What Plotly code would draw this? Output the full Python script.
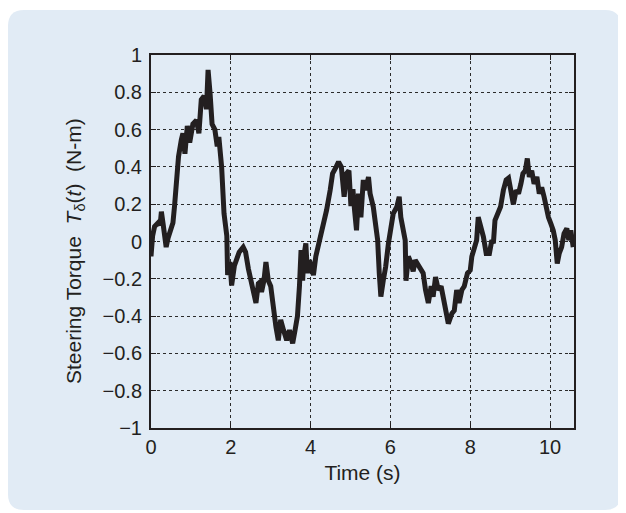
import plotly.graph_objects as go

# Time (s)
time_s = [0.00, 0.04, 0.09, 0.18, 0.23, 0.26, 0.30, 0.34, 0.38, 0.43, 0.47, 0.55, 0.59, 0.64, 0.69,
          0.76, 0.80, 0.85, 0.91, 0.97, 1.05, 1.14, 1.20, 1.26, 1.33, 1.39, 1.43, 1.48, 1.53, 1.60,
          1.66, 1.70, 1.77, 1.83, 1.87, 1.90, 1.92, 1.98, 2.02, 2.09, 2.15, 2.21, 2.31, 2.37, 2.44,
          2.52, 2.56, 2.63, 2.69, 2.73, 2.77, 2.83, 2.88, 2.94, 3.00, 3.07, 3.13, 3.19, 3.25, 3.32,
          3.40, 3.47, 3.55, 3.61, 3.67, 3.72, 3.76, 3.80, 3.83, 3.88, 3.92, 3.97, 4.03, 4.07, 4.13,
          4.19, 4.25, 4.32, 4.40, 4.49, 4.55, 4.64, 4.70, 4.77, 4.84, 4.90, 4.96, 5.01, 5.06, 5.10,
          5.15, 5.20, 5.26, 5.32, 5.38, 5.45, 5.49, 5.57, 5.63, 5.68, 5.72, 5.76, 5.82, 5.88, 5.95,
          6.01, 6.07, 6.16, 6.22, 6.26, 6.32, 6.37, 6.39, 6.45, 6.52, 6.57, 6.62, 6.68, 6.74, 6.82,
          6.88, 6.95, 7.02, 7.07, 7.13, 7.20, 7.27, 7.33, 7.39, 7.45, 7.54, 7.60, 7.66, 7.72, 7.79,
          7.85, 7.93, 8.00, 8.04, 8.09, 8.16, 8.20, 8.26, 8.33, 8.40, 8.48, 8.54, 8.58, 8.62, 8.70,
          8.76, 8.83, 8.90, 8.96, 9.02, 9.08, 9.15, 9.21, 9.27, 9.32, 9.38, 9.43, 9.48, 9.54, 9.60,
          9.67, 9.73, 9.79, 9.85, 9.90, 9.96, 10.02, 10.08, 10.13, 10.18, 10.23, 10.29, 10.35, 10.42,
          10.47, 10.52, 10.58]

# Steering torque (N-m)
torque = [-0.08, 0.03, 0.08, 0.10, 0.09, 0.16, 0.10, 0.02, -0.03, 0.02, 0.045, 0.10, 0.19, 0.35, 0.455,
          0.545, 0.58, 0.47, 0.62, 0.53, 0.63, 0.65, 0.58, 0.76, 0.78, 0.71, 0.92, 0.795, 0.63, 0.60,
          0.51, 0.56, 0.40, 0.15, 0.045, 0.03, -0.18, -0.11, -0.236, -0.13, -0.093, -0.057, -0.03, -0.057, -0.146,
          -0.218, -0.24, -0.33, -0.225, -0.218, -0.27, -0.21, -0.11, -0.21, -0.24, -0.386, -0.457, -0.53, -0.42, -0.475,
          -0.53, -0.475, -0.546, -0.475, -0.40, -0.24, -0.046, -0.21, -0.08, -0.01, -0.17, -0.10, -0.16, -0.18, -0.08,
          -0.03, 0.043, 0.096, 0.168, 0.275, 0.364, 0.40, 0.427, 0.40, 0.24, 0.364, 0.38, 0.19, 0.28, 0.17,
          0.06, 0.257, 0.13, 0.33, 0.275, 0.346, 0.257, 0.186, 0.06, 0.007, -0.17, -0.296, -0.21, -0.136, -0.01,
          0.08, 0.15, 0.186, 0.24, 0.13, 0.06, 0.007, -0.21, -0.08, -0.118, -0.16, -0.10, -0.118, -0.136, -0.17,
          -0.26, -0.33, -0.24, -0.296, -0.19, -0.26, -0.24, -0.31, -0.37, -0.44, -0.386, -0.37, -0.26, -0.33, -0.26,
          -0.24, -0.17, -0.154, -0.08, -0.046, 0.007, 0.13, 0.08, 0.025, -0.064, -0.064, 0.007, -0.01, 0.114, 0.15,
          0.186, 0.275, 0.33, 0.34, 0.275, 0.20, 0.275, 0.257, 0.31, 0.364, 0.38, 0.445, 0.346, 0.38, 0.31,
          0.346, 0.257, 0.29, 0.24, 0.186, 0.13, 0.096, 0.06, 0.007, -0.118, -0.064, -0.03, 0.043, 0.07,
          0.007, 0.06, -0.03]

x_ticks = [0, 2, 4, 6, 8, 10]
x_tick_labels = ["0", "2", "4", "6", "8", "10"]
y_ticks = [-1, -0.8, -0.6, -0.4, -0.2, 0, 0.2, 0.4, 0.6, 0.8, 1]
y_tick_labels = ["\u22121", "\u22120.8", "\u22120.6", "\u22120.4", "\u22120.2", "0",
                 "0.2", "0.4", "0.6", "0.8", "1"]

# The page body has an 8px margin, so the figure is drawn offset by (8, 8) on screen.
OFF = 8
W, H = 626 - OFF, 513 - OFF
PLOT_L, PLOT_R, PLOT_T, PLOT_B = 151, 574, 55, 428  # plot area in screen pixels
ML, MT = PLOT_L - OFF, PLOT_T - OFF
MR, MB = W - (PLOT_R - OFF), H - (PLOT_B - OFF)
PW, PH = PLOT_R - PLOT_L, PLOT_B - PLOT_T


def scr2paper(sx, sy):
    return (sx - PLOT_L) / PW, (PLOT_B - sy) / PH


def rounded_rect(x0, y0, x1, y1, r):
    def P(x, y):
        a, b = scr2paper(x, y)
        return f"{a:.5f},{b:.5f}"
    d = f"M {P(x0 + r, y0)} L {P(x1 - r, y0)} Q {P(x1, y0)} {P(x1, y0 + r)} "
    d += f"L {P(x1, y1 - r)} Q {P(x1, y1)} {P(x1 - r, y1)} "
    d += f"L {P(x0 + r, y1)} Q {P(x0, y1)} {P(x0, y1 - r)} "
    d += f"L {P(x0, y0 + r)} Q {P(x0, y0)} {P(x0 + r, y0)} Z"
    return d


FONT = "Liberation Sans, Arial, Helvetica, sans-serif"
INK = "#231f20"

fig = go.Figure()
fig.add_trace(go.Scatter(x=time_s, y=torque, mode="lines",
                         line=dict(color=INK, width=5), hoverinfo="skip"))

fig.add_shape(type="path", xref="paper", yref="paper", layer="below",
              path=rounded_rect(8, 10, 621, 510, 16),
              fillcolor="#e1ebf5", line=dict(width=0))

axis_common = dict(showline=True, linewidth=2, linecolor=INK, mirror="ticks",
                   ticks="inside", ticklen=5, tickwidth=1, tickcolor=INK,
                   showgrid=True, gridcolor="#2b2b2b", gridwidth=1, griddash="3px,3px",
                   zeroline=False)

fig.update_xaxes(range=[0, 10.6], tickvals=x_ticks, ticktext=x_tick_labels,
                 tickfont=dict(family=FONT, size=20, color=INK),
                 title=dict(text="Time (s)", font=dict(family=FONT, size=21, color=INK), standoff=8),
                 ticklabelstandoff=0, **axis_common)
fig.update_yaxes(range=[-1, 1], tickvals=y_ticks, ticktext=y_tick_labels,
                 tickfont=dict(family=FONT, size=20, color=INK),
                 ticklabelstandoff=3, **axis_common)

ax, ay = scr2paper(75, 251)
fig.add_annotation(xref="paper", yref="paper", x=ax, y=ay, showarrow=False,
                   textangle=-90, xanchor="center", yanchor="middle",
                   text="Steering Torque  <i>T</i><sub>\u03b4</sub>(<i>t</i>)  (N-m)",
                   font=dict(family=FONT, size=21, color=INK))

fig.update_layout(width=W, height=H, margin=dict(l=ML, r=MR, t=MT, b=MB),
                  paper_bgcolor="white", plot_bgcolor="#ebe7e2", showlegend=False)

fig.write_html("out.html")
